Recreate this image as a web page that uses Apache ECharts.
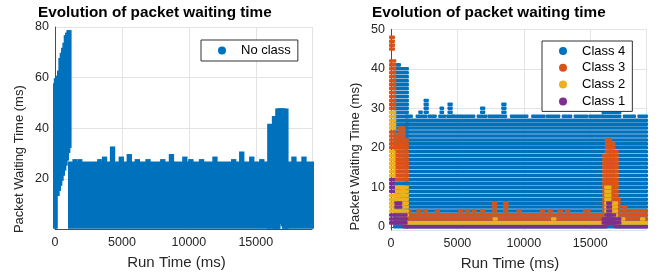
<!DOCTYPE html>
<html>
<head>
<meta charset="utf-8">
<script src="https://cdn.jsdelivr.net/npm/echarts@6/dist/echarts.min.js"></script>
<style>
  html, body { margin: 0; padding: 0; background: #fff; }
  #chart { width: 663px; height: 276px; }
</style>
</head>
<body>
<div id="chart"></div>
<script>
// Packets are logged on whole-ms waiting times, so the scatter is a stack of
// dense rows. Each entry: [run time from, run time to, lowest wait, highest wait]
const noClassBands = [
  [0, 60, 1, 57], [60, 200, 14, 59], [200, 300, 16, 60], [300, 400, 18, 62],
  [400, 500, 20, 67], [500, 600, 22, 69], [600, 700, 24, 71], [700, 800, 26, 73],
  [800, 900, 28, 76], [900, 1000, 31, 77], [1000, 1090, 33, 78],
  [1120, 16000, 1, 26],
  [16000, 16350, 1, 41], [16350, 16600, 1, 44], [16600, 16700, 1, 47],
  [16700, 16800, 3, 47], [16800, 16900, 4, 47], [16900, 17000, 5, 47],
  [17000, 17100, 2, 47], [17100, 17300, 1, 47],
  [17300, 19200, 1, 26],
  [1450, 1550, 26, 27], [1850, 1900, 26, 27], [3300, 3350, 26, 27], [3650, 3750, 26, 28],
  [4250, 4350, 26, 32], [4900, 5000, 26, 28], [5500, 5600, 26, 29], [6100, 6200, 26, 27],
  [6900, 7000, 26, 27], [8000, 8100, 26, 27], [8650, 8750, 26, 29], [9650, 9750, 26, 28],
  [10100, 10200, 26, 27], [10900, 11000, 26, 27], [11900, 12000, 26, 28], [13300, 13400, 26, 27],
  [13900, 14000, 26, 30], [14650, 14750, 26, 28], [15400, 15500, 26, 27],
  [17800, 17900, 26, 28], [18550, 18650, 26, 28]
];

const class4Bands = [
  [300, 1200, 0, 40], [500, 600, 41, 41],
  [1200, 19200, 0, 27],
  [1200, 1500, 28, 28], [2000, 2600, 28, 28], [2900, 3300, 28, 28], [3700, 4000, 28, 28],
  [4300, 4600, 28, 28], [4700, 5100, 28, 28], [5300, 6200, 28, 28], [6600, 7100, 28, 28],
  [7400, 8600, 28, 28], [9100, 10200, 28, 28], [10700, 11500, 28, 28], [11800, 12600, 28, 28],
  [13000, 13500, 28, 28], [13900, 14700, 28, 28], [15000, 15900, 28, 28],
  [16000, 17200, 28, 29], [16300, 16900, 30, 30], [17600, 18300, 28, 28], [18700, 19200, 28, 28],
  [2200, 2250, 29, 29], [2600, 2700, 29, 32], [3800, 3850, 29, 30], [4400, 4500, 29, 31],
  [6850, 6950, 29, 30], [8450, 8550, 29, 31]
];

const class3Bands = [
  [0, 150, 45, 48], [0, 250, 30, 42], [0, 250, 20, 24],
  [420, 650, 12, 23], [650, 950, 12, 25], [950, 1200, 12, 22],
  [500, 600, 8, 9], [800, 900, 6, 7],
  [1000, 16000, 2, 3], [17100, 19200, 2, 3],
  [1300, 1400, 4, 4], [2050, 2150, 4, 4], [2550, 2650, 4, 4], [3450, 3550, 4, 4],
  [5200, 5300, 4, 4], [5700, 5800, 4, 4], [6200, 6300, 4, 4], [6850, 6950, 4, 4],
  [7750, 7850, 4, 6], [8600, 8700, 4, 6], [9600, 9700, 4, 4], [11350, 11450, 4, 4],
  [11950, 12050, 4, 4], [12700, 12800, 4, 4], [13250, 13350, 4, 4], [14600, 14900, 4, 4],
  [17500, 17650, 4, 5], [18000, 18100, 4, 4], [18350, 18450, 4, 4], [18750, 18850, 4, 4],
  [19100, 19200, 4, 4],
  [16050, 16250, 4, 18], [16250, 16500, 4, 22], [16500, 16750, 4, 21],
  [16750, 17000, 4, 19], [17000, 17150, 4, 7]
];

const class2Bands = [
  [0, 250, 25, 29], [0, 200, 13, 19], [0, 250, 4, 8],
  [420, 1200, 3, 10],
  [1000, 19200, 1, 1],
  [7800, 7900, 2, 2], [12200, 12300, 2, 2], [17400, 17500, 2, 2], [18900, 19000, 2, 2],
  [16200, 16450, 3, 10], [16450, 16950, 2, 6]
];

const class1Bands = [
  [0, 150, 9, 12], [0, 250, 1, 3],
  [400, 700, 5, 6], [400, 1100, 1, 3],
  [1000, 16150, 0, 0], [16950, 19200, 0, 0],
  [16000, 17200, 1, 2], [16200, 16800, 1, 3], [16350, 16500, 3, 6]
];

const runTimeMax = 19200;
const classNames = ['Class 4', 'Class 3', 'Class 2', 'Class 1'];
const classColors = ['#0072BD', '#D95319', '#EDB120', '#7E2F8E'];

const font = 'Liberation Sans';
const ink = '#262626';

function bandSeries(name, data, color, axis, striped) {
  const r = 2;
  const rowH = 3.55;
  return {
    type: 'custom',
    name: name,
    xAxisIndex: axis,
    yAxisIndex: axis,
    data: data,
    itemStyle: { color: color },
    encode: { x: [0, 1], y: [2, 3] },
    silent: true,
    renderItem: function (params, api) {
      const x0 = api.value(0), x1 = api.value(1), lo = api.value(2), hi = api.value(3);
      const a = api.coord([x0, lo]);
      const b = api.coord([x1, hi]);
      const left = a[0] - r;
      const width = b[0] - a[0] + 2 * r;
      if (!striped) {
        return {
          type: 'rect',
          shape: { x: left, y: b[1] - r, width: width, height: a[1] - b[1] + 2 * r },
          style: { fill: color }
        };
      }
      const children = [];
      for (let v = lo; v <= hi; v++) {
        const c = api.coord([x0, v]);
        children.push({
          type: 'rect',
          shape: { x: left, y: c[1] - rowH / 2, width: width, height: rowH, r: 1 },
          style: { fill: color }
        });
      }
      return { type: 'group', children: children };
    }
  };
}

function plain(v) { return String(v); }

function xAxisFor(gridIndex, namePad) {
  return {
    type: 'value', gridIndex: gridIndex, min: 0, max: runTimeMax, interval: 5000,
    name: 'Run Time (ms)', nameLocation: 'middle', nameGap: 26,
    nameTextStyle: { fontFamily: font, fontSize: 15, color: ink, padding: [0, namePad, 0, 0] },
    axisLine: { show: true, lineStyle: { color: '#4d4d4d', width: 1 } },
    axisTick: { show: false },
    axisLabel: { fontFamily: font, fontSize: 12.5, color: ink, margin: 7, showMaxLabel: false, formatter: plain },
    splitLine: { show: true, lineStyle: { color: '#e3e3e3', width: 1 } }
  };
}

function yAxisFor(gridIndex, min, max, split, namePad, nameGap) {
  return {
    type: 'value', gridIndex: gridIndex, min: min, max: max, splitNumber: split,
    name: 'Packet Waiting Time (ms)', nameLocation: 'middle', nameGap: nameGap,
    nameTextStyle: { fontFamily: font, fontSize: 13, color: ink, padding: [0, namePad, 0, 0] },
    axisLine: { show: true, lineStyle: { color: '#4d4d4d', width: 1 } },
    axisTick: { show: false },
    axisLabel: { fontFamily: font, fontSize: 12.5, color: ink, margin: 6, showMinLabel: false, formatter: plain },
    splitLine: { show: true, lineStyle: { color: '#e3e3e3', width: 1 } }
  };
}

const legendBase = {
  orient: 'vertical', icon: 'circle', itemWidth: 28, itemHeight: 8, itemGap: 1.8,
  selectedMode: false, backgroundColor: '#fff', borderColor: '#333', borderWidth: 1,
  borderRadius: 0, padding: [3, 7, 3, 17],
  textStyle: { fontFamily: font, fontSize: 13, color: '#000', lineHeight: 15 }
};

const chart = echarts.init(document.getElementById('chart'), null, { renderer: 'canvas' });

chart.setOption({
  animation: false,
  title: [
    { text: 'Evolution of packet waiting time', left: 38, top: 5, padding: 0,
      textStyle: { fontFamily: font, fontSize: 15.3, fontWeight: 'bold', color: '#000' } },
    { text: 'Evolution of packet waiting time', left: 372, top: 5, padding: 0,
      textStyle: { fontFamily: font, fontSize: 15.3, fontWeight: 'bold', color: '#000' } }
  ],
  legend: [
    Object.assign({}, legendBase, { data: ['No class'], left: 201, top: 40 }),
    Object.assign({}, legendBase, { data: classNames, left: 542, top: 41, padding: [2.5, 7, 2.5, 17] })
  ],
  grid: [
    { left: 55, top: 27, width: 257, height: 202.4 },
    { left: 391, top: 29.3, width: 255, height: 200.7 }
  ],
  xAxis: [xAxisFor(0, 14), xAxisFor(1, 17)],
  yAxis: [yAxisFor(0, 0, 80, 4, 62, 29), yAxisFor(1, -0.8, 50, 5, 54, 29)],
  series: [
    bandSeries('No class', noClassBands, classColors[0], 0, false),
    bandSeries(classNames[0], class4Bands, classColors[0], 1, true),
    bandSeries(classNames[1], class3Bands, classColors[1], 1, true),
    bandSeries(classNames[2], class2Bands, classColors[2], 1, true),
    bandSeries(classNames[3], class1Bands, classColors[3], 1, true)
  ]
});

window.addEventListener('resize', chart.resize);
</script>
</body>
</html>
